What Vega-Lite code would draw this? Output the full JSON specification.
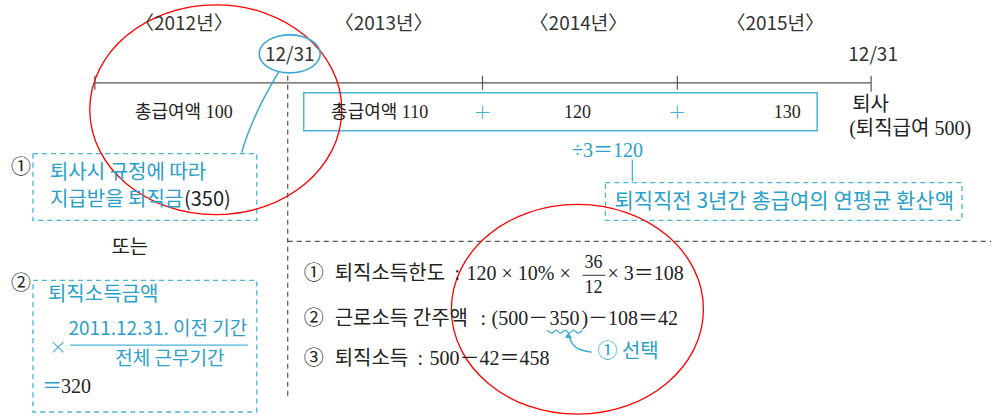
{
  "$schema": "https://vega.github.io/schema/vega-lite/v6.json",
  "width": 992,
  "height": 417,
  "padding": 0,
  "autosize": {"type": "fit", "contains": "padding"},
  "background": "white",
  "config": {"view": {"stroke": null}},
  "datasets": {
    "lines": [
      {"x": 94, "x2": 872, "y": 83, "y2": 83, "kind": "axis"},
      {"x": 95, "x2": 95, "y": 76, "y2": 90, "kind": "axis"},
      {"x": 483, "x2": 483, "y": 76, "y2": 90, "kind": "axis"},
      {"x": 678, "x2": 678, "y": 76, "y2": 90, "kind": "axis"},
      {"x": 872, "x2": 872, "y": 76, "y2": 92, "kind": "axis"},
      {"x": 583, "x2": 606, "y": 276, "y2": 276, "kind": "axis"},
      {"x": 288, "x2": 288, "y": 76, "y2": 400, "kind": "dash"},
      {"x": 288, "x2": 992, "y": 242, "y2": 242, "kind": "dash"},
      {"x": 633, "x2": 633, "y": 160, "y2": 182, "kind": "teal"},
      {"x": 70, "x2": 248, "y": 346, "y2": 346, "kind": "teal"}
    ],
    "boxes": [
      {"x": 304, "x2": 818, "y": 93, "y2": 131, "kind": "solid"},
      {"x": 33, "x2": 257, "y": 154, "y2": 221, "kind": "dash"},
      {"x": 33, "x2": 257, "y": 281, "y2": 413, "kind": "dash"},
      {"x": 606, "x2": 963, "y": 183, "y2": 221, "kind": "dash"}
    ],
    "curves": [
      {"id": "c1", "i": 1, "x": 279, "y": 72},
      {"id": "c1", "i": 2, "x": 272, "y": 84},
      {"id": "c1", "i": 3, "x": 262, "y": 102},
      {"id": "c1", "i": 4, "x": 252, "y": 124},
      {"id": "c1", "i": 5, "x": 245, "y": 142},
      {"id": "c1", "i": 6, "x": 242, "y": 153},
      {"id": "c2", "i": 1, "x": 570, "y": 337},
      {"id": "c2", "i": 2, "x": 572, "y": 345},
      {"id": "c2", "i": 3, "x": 580, "y": 351},
      {"id": "c2", "i": 4, "x": 592, "y": 353},
      {"id": "w", "i": 1, "x": 548, "y": 331},
      {"id": "w", "i": 2, "x": 552, "y": 334},
      {"id": "w", "i": 3, "x": 557, "y": 331},
      {"id": "w", "i": 4, "x": 561, "y": 334},
      {"id": "w", "i": 5, "x": 566, "y": 331},
      {"id": "w", "i": 6, "x": 570, "y": 334},
      {"id": "w", "i": 7, "x": 574, "y": 331},
      {"id": "w", "i": 8, "x": 579, "y": 334},
      {"id": "w", "i": 9, "x": 583, "y": 331}
    ],
    "ellipses": [
      {"x": 216, "y": 110, "kind": "red"},
      {"x": 578, "y": 310, "kind": "red"},
      {"x": 290, "y": 54, "kind": "teal"}
    ],
    "arrow": [{"x": 569, "y": 336}],
    "texts": [
      {"x": 184, "y": 24, "t": "〈2012년〉", "g": "label"},
      {"x": 384, "y": 24, "t": "〈2013년〉", "g": "label"},
      {"x": 579, "y": 24, "t": "〈2014년〉", "g": "label"},
      {"x": 776, "y": 24, "t": "〈2015년〉", "g": "label"},
      {"x": 290, "y": 55, "t": "12/31", "g": "label"},
      {"x": 874, "y": 55, "t": "12/31", "g": "label"},
      {"x": 184, "y": 113, "t": "총급여액 100", "g": "dark"},
      {"x": 380, "y": 113, "t": "총급여액 110", "g": "dark"},
      {"x": 578, "y": 113, "t": "120", "g": "dark"},
      {"x": 788, "y": 113, "t": "130", "g": "dark"},
      {"x": 594, "y": 264, "t": "36", "g": "dark"},
      {"x": 594, "y": 289, "t": "12", "g": "dark"},
      {"x": 130, "y": 249, "t": "또는", "g": "darkC"},
      {"x": 21, "y": 168, "t": "①", "g": "darkC"},
      {"x": 21, "y": 285, "t": "②", "g": "darkC"},
      {"x": 314, "y": 275, "t": "①", "g": "darkC"},
      {"x": 314, "y": 320, "t": "②", "g": "darkC"},
      {"x": 314, "y": 360, "t": "③", "g": "darkC"},
      {"x": 335, "y": 275, "t": "퇴직소득한도", "g": "korL"},
      {"x": 335, "y": 320, "t": "근로소득 간주액", "g": "korL"},
      {"x": 335, "y": 360, "t": "퇴직소득", "g": "korL"},
      {"x": 853, "y": 105, "t": "퇴사", "g": "numL"},
      {"x": 850, "y": 129, "t": "(퇴직급여 500)", "g": "numL"},
      {"x": 455, "y": 275, "t": ":", "g": "numL"},
      {"x": 467, "y": 275, "t": "120 × 10% ×", "g": "numL"},
      {"x": 608, "y": 275, "t": "× 3＝108", "g": "numL"},
      {"x": 481, "y": 320, "t": ":", "g": "numL"},
      {"x": 492, "y": 320, "t": "(500－", "g": "numL"},
      {"x": 550, "y": 320, "t": "350", "g": "numL"},
      {"x": 582, "y": 320, "t": ")－108＝42", "g": "numL"},
      {"x": 418, "y": 360, "t": ":", "g": "numL"},
      {"x": 430, "y": 360, "t": "500－42＝458", "g": "numL"},
      {"x": 61, "y": 388, "t": "320", "g": "numL"},
      {"x": 231, "y": 200, "t": "(350)", "g": "darkR"},
      {"x": 483, "y": 112, "t": "+", "g": "tealPlus"},
      {"x": 678, "y": 112, "t": "+", "g": "tealPlus"},
      {"x": 58, "y": 348, "t": "×", "g": "tealPlus"},
      {"x": 608, "y": 151, "t": "÷3＝120", "g": "teal"},
      {"x": 785, "y": 202, "t": "퇴직직전 3년간 총급여의 연평균 환산액", "g": "tealBig"},
      {"x": 158, "y": 330, "t": "2011.12.31. 이전 기간", "g": "tealSans"},
      {"x": 170, "y": 360, "t": "전체 근무기간", "g": "tealSans"},
      {"x": 50, "y": 173, "t": "퇴사시 규정에 따라", "g": "tealL"},
      {"x": 50, "y": 200, "t": "지급받을 퇴직금", "g": "tealL"},
      {"x": 48, "y": 296, "t": "퇴직소득금액", "g": "tealL"},
      {"x": 42, "y": 388, "t": "＝", "g": "tealL"},
      {"x": 598, "y": 353, "t": "① 선택", "g": "tealL"}
    ]
  },
  "encoding": {
    "x": {"field": "x", "type": "quantitative", "scale": {"domain": [0, 992], "nice": false, "zero": false}, "axis": null},
    "y": {"field": "y", "type": "quantitative", "scale": {"domain": [0, 417], "nice": false, "zero": false, "reverse": true}, "axis": null}
  },
  "layer": [
    {
      "data": {"name": "boxes"},
      "transform": [{"filter": "datum.kind === 'solid'"}],
      "mark": {"type": "rect", "fill": null, "fillOpacity": 0, "stroke": "#4db3d4", "strokeWidth": 1.5},
      "encoding": {"x2": {"field": "x2"}, "y2": {"field": "y2"}}
    },
    {
      "data": {"name": "boxes"},
      "transform": [{"filter": "datum.kind === 'dash'"}],
      "mark": {"type": "rect", "fill": null, "fillOpacity": 0, "stroke": "#4db3d4", "strokeWidth": 1.3, "strokeDash": [5, 4]},
      "encoding": {"x2": {"field": "x2"}, "y2": {"field": "y2"}}
    },
    {
      "data": {"name": "lines"},
      "transform": [{"filter": "datum.kind === 'axis'"}],
      "mark": {"type": "rule", "stroke": "#555555", "strokeWidth": 1.2},
      "encoding": {"x2": {"field": "x2"}, "y2": {"field": "y2"}}
    },
    {
      "data": {"name": "lines"},
      "transform": [{"filter": "datum.kind === 'dash'"}],
      "mark": {"type": "rule", "stroke": "#555555", "strokeWidth": 1.2, "strokeDash": [5, 4]},
      "encoding": {"x2": {"field": "x2"}, "y2": {"field": "y2"}}
    },
    {
      "data": {"name": "lines"},
      "transform": [{"filter": "datum.kind === 'teal'"}],
      "mark": {"type": "rule", "stroke": "#4db3d4", "strokeWidth": 1.3},
      "encoding": {"x2": {"field": "x2"}, "y2": {"field": "y2"}}
    },
    {
      "data": {"name": "curves"},
      "transform": [{"filter": "datum.id !== 'w'"}],
      "mark": {"type": "line", "stroke": "#3aaad0", "strokeWidth": 1.5, "interpolate": "basis"},
      "encoding": {"detail": {"field": "id"}, "order": {"field": "i", "type": "quantitative"}}
    },
    {
      "data": {"name": "curves"},
      "transform": [{"filter": "datum.id === 'w'"}],
      "mark": {"type": "line", "stroke": "#3aaad0", "strokeWidth": 1.2, "interpolate": "monotone"},
      "encoding": {"order": {"field": "i", "type": "quantitative"}}
    },
    {
      "data": {"name": "arrow"},
      "mark": {"type": "point", "shape": "triangle-up", "filled": true, "fill": "#3aaad0", "size": 45, "opacity": 1, "strokeWidth": 0}
    },
    {
      "data": {"name": "ellipses"},
      "transform": [{"filter": "datum.kind === 'red'"}],
      "mark": {"type": "point", "shape": "M-1,0A1,0.833,0,1,0,1,0A1,0.833,0,1,0,-1,0Z", "filled": false, "stroke": "#ff0000", "strokeWidth": 1.3, "size": 63504, "opacity": 1}
    },
    {
      "data": {"name": "ellipses"},
      "transform": [{"filter": "datum.kind === 'teal'"}],
      "mark": {"type": "point", "shape": "M-1,0A1,0.623,0,1,0,1,0A1,0.623,0,1,0,-1,0Z", "filled": false, "stroke": "#3aaad0", "strokeWidth": 1.6, "size": 3721, "opacity": 1}
    },
    {
      "data": {"name": "texts"},
      "transform": [{"filter": "datum.g === 'label'"}],
      "mark": {"type": "text", "font": "Liberation Sans Narrow, Noto Sans CJK KR", "fontSize": 19, "fill": "#333333", "align": "center", "baseline": "middle"},
      "encoding": {"text": {"field": "t"}}
    },
    {
      "data": {"name": "texts"},
      "transform": [{"filter": "datum.g === 'dark'"}],
      "mark": {"type": "text", "font": "Liberation Serif, Noto Sans CJK KR", "fontSize": 18, "fill": "#222222", "align": "center", "baseline": "middle"},
      "encoding": {"text": {"field": "t"}}
    },
    {
      "data": {"name": "texts"},
      "transform": [{"filter": "datum.g === 'darkC'"}],
      "mark": {"type": "text", "font": "Noto Sans CJK KR", "fontSize": 20, "fill": "#222222", "align": "center", "baseline": "middle"},
      "encoding": {"text": {"field": "t"}}
    },
    {
      "data": {"name": "texts"},
      "transform": [{"filter": "datum.g === 'korL'"}],
      "mark": {"type": "text", "font": "Noto Sans CJK KR", "fontSize": 20, "fill": "#222222", "align": "left", "baseline": "middle"},
      "encoding": {"text": {"field": "t"}}
    },
    {
      "data": {"name": "texts"},
      "transform": [{"filter": "datum.g === 'numL'"}],
      "mark": {"type": "text", "font": "Liberation Serif, Noto Sans CJK KR", "fontSize": 20, "fill": "#222222", "align": "left", "baseline": "middle"},
      "encoding": {"text": {"field": "t"}}
    },
    {
      "data": {"name": "texts"},
      "transform": [{"filter": "datum.g === 'darkR'"}],
      "mark": {"type": "text", "font": "Liberation Sans Narrow, Noto Sans CJK KR", "fontSize": 20, "fill": "#222222", "align": "right", "baseline": "middle"},
      "encoding": {"text": {"field": "t"}}
    },
    {
      "data": {"name": "texts"},
      "transform": [{"filter": "datum.g === 'tealPlus'"}],
      "mark": {"type": "text", "font": "DejaVu Sans", "fontSize": 22, "fontWeight": 200, "fill": "#4db3d4", "align": "center", "baseline": "middle"},
      "encoding": {"text": {"field": "t"}}
    },
    {
      "data": {"name": "texts"},
      "transform": [{"filter": "datum.g === 'teal'"}],
      "mark": {"type": "text", "font": "Liberation Serif, Noto Sans CJK KR", "fontSize": 20, "fill": "#2a9fc9", "align": "center", "baseline": "middle"},
      "encoding": {"text": {"field": "t"}}
    },
    {
      "data": {"name": "texts"},
      "transform": [{"filter": "datum.g === 'tealSans'"}],
      "mark": {"type": "text", "font": "Liberation Sans Narrow, Noto Sans CJK KR", "fontSize": 19, "fill": "#2a9fc9", "align": "center", "baseline": "middle"},
      "encoding": {"text": {"field": "t"}}
    },
    {
      "data": {"name": "texts"},
      "transform": [{"filter": "datum.g === 'tealBig'"}],
      "mark": {"type": "text", "font": "Liberation Sans Narrow, Noto Sans CJK KR", "fontSize": 21, "fill": "#2a9fc9", "align": "center", "baseline": "middle"},
      "encoding": {"text": {"field": "t"}}
    },
    {
      "data": {"name": "texts"},
      "transform": [{"filter": "datum.g === 'tealL'"}],
      "mark": {"type": "text", "font": "Liberation Sans Narrow, Noto Sans CJK KR", "fontSize": 20, "fill": "#2a9fc9", "align": "left", "baseline": "middle"},
      "encoding": {"text": {"field": "t"}}
    }
  ]
}
